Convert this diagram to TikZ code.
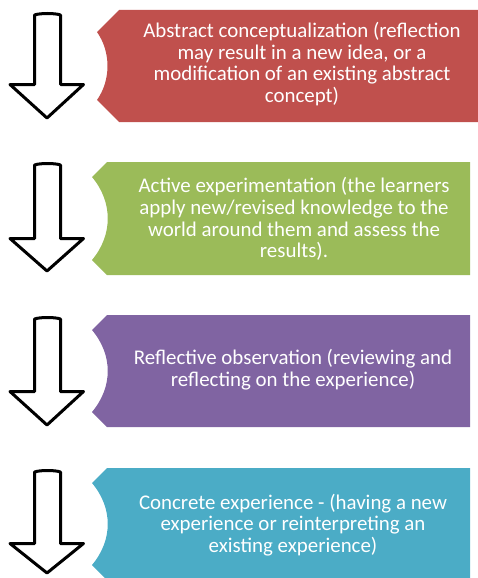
\documentclass[tikz,border=0pt]{standalone}
\usepackage{fontspec}
\setmainfont{Carlito}
\usepackage{tikz}
\usetikzlibrary{positioning,calc}

\definecolor{abstractred}{HTML}{C0504D}
\definecolor{activegreen}{HTML}{9BBB59}
\definecolor{reflectpurple}{HTML}{8064A2}
\definecolor{concreteteal}{HTML}{4BACC6}

\begin{document}
\begin{tikzpicture}[
    x=1pt, y=-1pt,
    hollowarrow/.style={draw=black, fill=white, line width=3pt, line join=round},
    stage/.style={text=white, align=center, font=\fontsize{20.9}{21.8}\selectfont, inner sep=0pt}
]
    \useasboundingbox (0,0) rectangle (478,578);
    \clip (0,0) rectangle (478,578);

    % Stage shapes
    \fill[abstractred] (119,10) -- (480,10) -- (480,122) -- (119,122) -- (97,100)
        .. controls (111,80) and (111,52) .. (97,32) -- cycle;
    \fill[activegreen] (107,162) -- (470,162) -- (470,275) -- (107,275) -- (92,260)
        .. controls (113,235) and (113,202) .. (92,177) -- cycle;
    \fill[reflectpurple] (107,315) -- (470,315) -- (470,427) -- (107,427) -- (92,412)
        .. controls (113,387) and (113,355) .. (92,330) -- cycle;
    \fill[concreteteal] (107,468) -- (470,468) -- (470,580) -- (107,580) -- (92,565)
        .. controls (113,540) and (113,508) .. (92,483) -- cycle;

    % Stage texts
    \node[stage] (abstract) at (302,64) {Abstract conceptualization (reflection\\may result in a new idea, or a\\modification of an existing abstract\\concept)};
    \node[stage] (active) at (294,219) {Active experimentation (the learners\\apply new/revised knowledge to the\\world around them and assess the\\results).};
    \node[stage] (reflective) at (293,370) {Reflective observation (reviewing and\\reflecting on the experience)};
    \node[stage] (concrete) at (293,525) {Concrete experience - (having a new\\experience or reinterpreting an\\existing experience)};

    % Down arrows
    \draw[hollowarrow] (34.5,15) .. controls (40,13) and (55,13) .. (60.5,15)
        -- (60.5,84.5) -- (83.5,84.5) -- (47,118) -- (10,84.5) -- (34.5,84.5) -- cycle;
    \draw[hollowarrow] (34.5,165) .. controls (40,163) and (55,163) .. (60.5,165)
        -- (60.5,238.5) -- (83.5,238.5) -- (47,271) -- (10,238.5) -- (34.5,238.5) -- cycle;
    \draw[hollowarrow] (34.5,319) .. controls (40,317) and (55,317) .. (60.5,319)
        -- (60.5,391.5) -- (83.5,391.5) -- (47,425) -- (10,391.5) -- (34.5,391.5) -- cycle;
    \draw[hollowarrow] (34.5,472) .. controls (40,470) and (55,470) .. (60.5,472)
        -- (60.5,543.5) -- (83.5,543.5) -- (47,573) -- (10,543.5) -- (34.5,543.5) -- cycle;
\end{tikzpicture}
\end{document}
